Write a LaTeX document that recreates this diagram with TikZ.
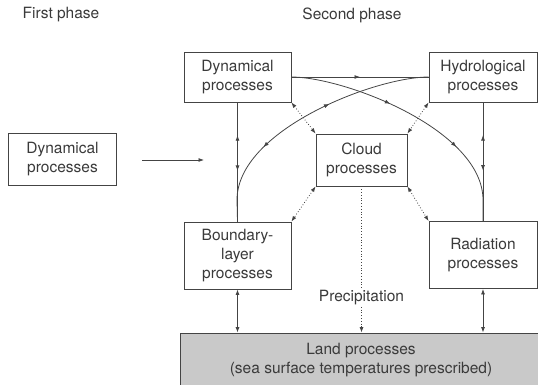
\documentclass[tikz,border=0pt]{standalone}
\usepackage{fontspec}
\setmainfont{TeX Gyre Heros}
\usetikzlibrary{arrows.meta,decorations.markings}
\definecolor{ink}{HTML}{444444}
\definecolor{txt}{HTML}{3A3A3A}
\definecolor{landgray}{HTML}{C9C9C9}
\begin{document}
\begin{tikzpicture}[x=1pt,y=-1pt,
  font=\fontsize{15.5}{19}\selectfont,
  >={Latex[length=5.5pt,width=4pt]},
  box/.style={draw=ink, line width=0.8pt, inner sep=0pt, align=center, text=txt},
  conn/.style={draw=ink, line width=0.8pt},
  dotconn/.style={draw=ink, line width=0.8pt, dotted},
  fwd/.style={postaction={decorate,decoration={markings,mark=at position #1 with {\arrow{>}}}}},
  bwd/.style={postaction={decorate,decoration={markings,mark=at position #1 with {\arrowreversed{>}}}}},
  lbl/.style={text=txt, inner sep=1pt}]
\useasboundingbox (0,0) rectangle (538,384);

% phase titles
\node[lbl] (t1) at (61,15) {First phase};
\node[lbl] (t2) at (352,15) {Second phase};

% boxes
\node[box, minimum width=108pt, minimum height=52pt] (first) at (62.5,159) {Dynamical\\processes};
\node[box, minimum width=107pt, minimum height=50pt] (dyn) at (237.5,77) {Dynamical\\processes};
\node[box, minimum width=108pt, minimum height=50pt] (hyd) at (483,77) {Hydrological\\processes};
\node[box, minimum width=91pt, minimum height=52pt] (cloud) at (361.5,160) {Cloud\\processes};
\node[box, minimum width=107pt, minimum height=67pt] (bl) at (237.5,255.5) {Boundary-\\layer\\processes};
\node[box, minimum width=108pt, minimum height=67pt] (rad) at (483,255) {Radiation\\processes};
\node[box, fill=landgray, minimum width=362pt, minimum height=54pt] (land) at (361,360) {Land processes\\(sea surface temperatures prescribed)};

% first-phase arrow
\coordinate (a1) at (142,160);
\coordinate (a2) at (204,160);
\draw[conn,->] (a1) -- (a2);

% horizontal dyn -> hyd
\draw[conn, fwd=0.5] (dyn.east) -- (hyd.west);

% curves
\draw[conn, fwd=0.39, fwd=0.69] (dyn.east) .. controls (345,77) and (483,130) .. (483,200) -- (rad.north);
\draw[conn, bwd=0.39, fwd=0.69] (hyd.west) .. controls (375,77) and (237,130) .. (237,200) -- (bl.north);

% vertical links
\draw[conn, bwd=0.275, fwd=0.575] (dyn.south) -- (bl.north);
\draw[conn, bwd=0.275, fwd=0.575] (hyd.south) -- (rad.north);

% dotted links with cloud
\draw[dotconn,<->] (dyn.south east) -- (cloud.north west);
\draw[dotconn,<->] (hyd.south west) -- (cloud.north east);
\draw[dotconn,<->] (cloud.south west) -- (bl.north east);
\draw[dotconn,<->] (cloud.south east) -- (rad.north west);

% precipitation
\draw[dotconn,->] (cloud.south) -- node[pos=0.76, fill=white, lbl] (prec) {Precipitation} (cloud.south |- land.north);

% links to land
\draw[conn,<->] (bl.south) -- (bl.south |- land.north);
\draw[conn,<->] (rad.south) -- (rad.south |- land.north);
\end{tikzpicture}
\end{document}
